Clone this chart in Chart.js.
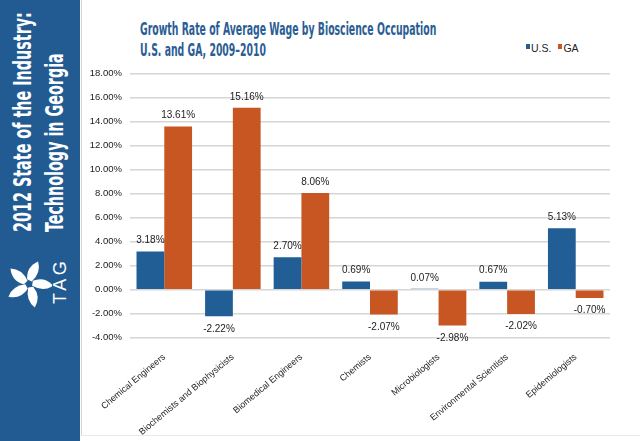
<!DOCTYPE html>
<html>
<head>
<meta charset="utf-8">
<script src="https://cdn.jsdelivr.net/npm/chart.js@4.4.0/dist/chart.umd.min.js"></script>
<style>
  html, body { margin: 0; padding: 0; background: #fff; }
  body { width: 640px; height: 441px; position: relative; overflow: hidden; font-family: "Liberation Sans", Arial, sans-serif; }
  #sidebar { position: absolute; left: 0; top: 0; width: 80px; height: 441px; background: #215b92; }
  #frame { position: absolute; left: 81px; top: 0; width: 559px; height: 436px; border-left: 1px solid #d4d4d4; border-bottom: 1px solid #e8e8e8; box-sizing: border-box; }
  .side-line { position: absolute; transform-origin: 0 0; white-space: nowrap; color: #fff;
    font-family: "Liberation Sans Narrow", "DejaVu Sans Condensed", sans-serif; font-weight: bold; font-size: 25px; line-height: 25px; }
  #tag { position: absolute; left: 50.7px; top: 303.5px; transform-origin: 0 0; transform: rotate(-90deg);
    color: #fff; font-size: 18px; line-height: 18px; letter-spacing: 3.5px; white-space: nowrap; }
  #logo { position: absolute; left: 6px; top: 256px; }
  .title-line { position: absolute; left: 140px; transform-origin: 0 0; white-space: nowrap; color: #2b5d94;
    font-family: "Liberation Sans Narrow", "DejaVu Sans Condensed", sans-serif; font-weight: bold; font-size: 17px; line-height: 21px; }
  #legend { position: absolute; left: 526px; top: 42px; font-size: 10.5px; color: #222; white-space: nowrap; }
  #legend span.item { margin-right: 7px; }
  #legend span.box { display: inline-block; width: 4px; height: 5px; margin-right: 1px; vertical-align: 3px; }
  #wrap { position: absolute; left: 82px; top: 60px; width: 558px; height: 381px; }
</style>
</head>
<body>
<div id="sidebar"></div>
<div id="frame"></div>
<div class="side-line" id="side1" style="left:10.2px; top:232px;">2012 State of the Industry:</div>
<div class="side-line" id="side2" style="left:42px; top:232px;">Technology in Georgia</div>
<svg id="logo" width="46" height="56" viewBox="-23 -28 46 56">
  <g fill="#fff" id="petals"></g>
</svg>
<div id="tag">TAG</div>
<div class="title-line" id="title1" style="top:19px;">Growth Rate of Average Wage by Bioscience Occupation</div>
<div class="title-line" id="title2" style="top:40px;">U.S. and GA, 2009–2010</div>
<div id="legend"></div>
<div id="wrap"><canvas id="chart"></canvas></div>
<script>
const categories = [
  "Chemical Engineers",
  "Biochemists and Biophysicists",
  "Biomedical Engineers",
  "Chemists",
  "Microbiologists",
  "Environmental Scientists",
  "Epidemiologists"
];
const usValues = [3.18, -2.22, 2.70, 0.69, 0.07, 0.67, 5.13];
const gaValues = [13.61, 15.16, 8.06, -2.07, -2.98, -2.02, -0.70];
const seriesNames = ["U.S.", "GA"];
const seriesColors = ["#215e96", "#c75623"];
const yMin = -4;
const yMax = 18;
const yStep = 2;

// squeeze the condensed headings to the reference widths
function fitLine(el, target, rotate) {
  const s = target / el.offsetWidth;
  el.style.transform = (rotate ? "rotate(-90deg) " : "") + "scaleX(" + s + ")";
  return s;
}
fitLine(document.getElementById("side1"), 220, true);
fitLine(document.getElementById("side2"), 179, true);
const ts = fitLine(document.getElementById("title1"), 296, false);
document.getElementById("title2").style.transform = "scaleX(" + ts + ")";

// rough pinwheel logo
const petals = document.getElementById("petals");
for (let i = 0; i < 5; i++) {
  const p = document.createElementNS("http://www.w3.org/2000/svg", "path");
  p.setAttribute("d", "M2,-3 Q9,-14 3,-24 Q-7,-16 -3,-4 Z");
  p.setAttribute("transform", "rotate(" + (i * 72 + 15) + ")");
  petals.appendChild(p);
}

const legend = document.getElementById("legend");
seriesNames.forEach((name, i) => {
  legend.innerHTML += '<span class="item"><span class="box" style="background:' +
    seriesColors[i] + '"></span>' + name + "</span>";
});

const valueLabels = {
  id: "valueLabels",
  afterDatasetsDraw(chart) {
    const ctx = chart.ctx;
    ctx.save();
    ctx.font = "10px 'Liberation Sans', Arial, sans-serif";
    ctx.fillStyle = "#222";
    ctx.textAlign = "center";
    ctx.textBaseline = "middle";
    chart.data.datasets.forEach((ds, i) => {
      chart.getDatasetMeta(i).data.forEach((bar, j) => {
        const v = ds.data[j];
        const y = v >= 0 ? bar.y - 11 : bar.y + 12.5;
        ctx.fillText(v.toFixed(2) + "%", bar.x, y);
      });
    });
    ctx.restore();
  }
};

new Chart(document.getElementById("chart"), {
  type: "bar",
  data: {
    labels: categories,
    datasets: [
      { label: seriesNames[0], data: usValues, backgroundColor: seriesColors[0] },
      { label: seriesNames[1], data: gaValues, backgroundColor: seriesColors[1] }
    ]
  },
  options: {
    responsive: true,
    maintainAspectRatio: false,
    animation: false,
    layout: { padding: { top: 12.7, right: 30, left: 0, bottom: 0 } },
    datasets: { bar: { categoryPercentage: 0.81, barPercentage: 1 } },
    plugins: {
      legend: { display: false },
      tooltip: { enabled: false }
    },
    scales: {
      x: {
        grid: { display: false },
        border: { display: false },
        ticks: {
          autoSkip: false,
          minRotation: 40,
          maxRotation: 40,
          padding: 6,
          color: "#222",
          font: { family: "'Liberation Sans', Arial, sans-serif", size: 9 }
        },
        afterFit: (scale) => { scale.height = 103.3; }
      },
      y: {
        min: yMin,
        max: yMax,
        grid: { color: "#d6d6d6", lineWidth: 1.5, drawTicks: false },
        border: { display: false },
        ticks: {
          stepSize: yStep,
          padding: 8,
          color: "#222",
          font: { family: "'Liberation Sans', Arial, sans-serif", size: 9.5 },
          callback: (v) => v.toFixed(2) + "%"
        },
        afterFit: (scale) => { scale.width = 48; }
      }
    }
  },
  plugins: [valueLabels]
});
</script>
</body>
</html>
